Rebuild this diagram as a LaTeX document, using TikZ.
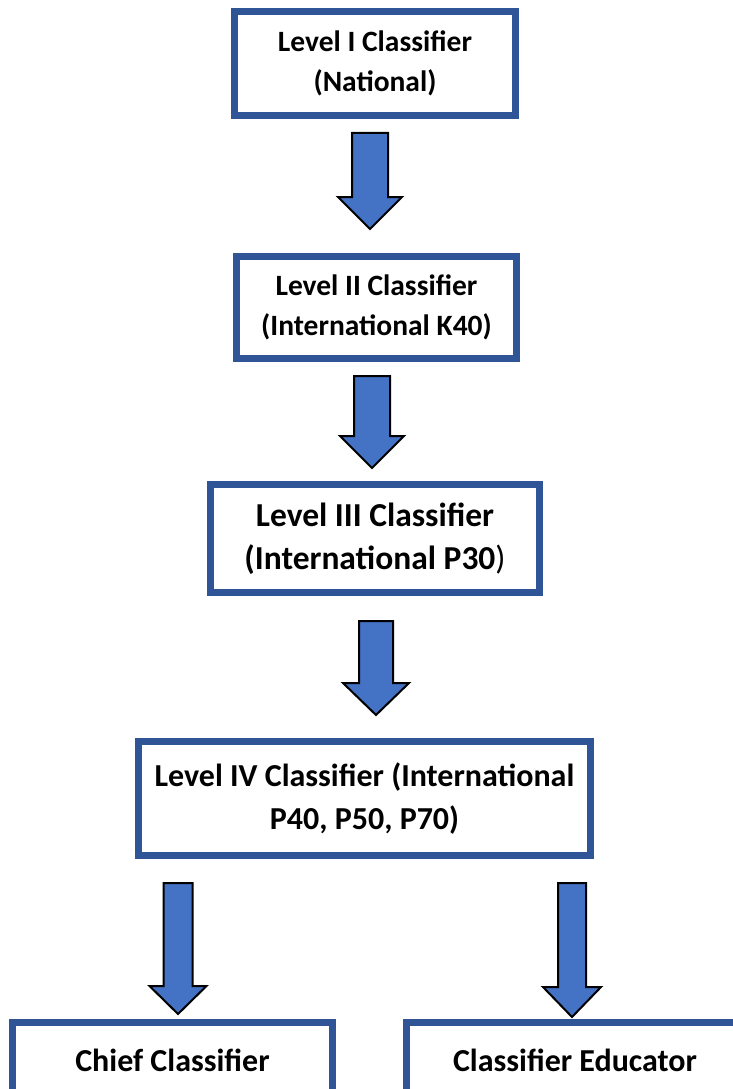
\documentclass[tikz,border=0pt]{standalone}
\usepackage{fontspec}
\setmainfont{Carlito}
\usetikzlibrary{calc}

\definecolor{boxblue}{HTML}{2F5597}
\definecolor{arrowblue}{HTML}{4472C4}

\newcommand{\lvlfont}[2]{\fontsize{#1}{#2}\selectfont\bfseries}

\tikzset{
  levelbox/.style={draw=boxblue, line width=7pt, fill=white, align=center,
    inner sep=0pt, font=\lvlfont{29.5}{40}},
  blockarrow/.style={draw=black, fill=arrowblue, line width=2pt, line join=miter}
}

% block arrow from a start coordinate down to a tip coordinate
\newcommand{\blkarrow}[5]{%
  \draw[blockarrow] let \p1=(#1), \p2=(#2) in
    (\x1-#3,\y1) -- (\x1+#3,\y1) -- (\x1+#3,\y2+#5) -- (\x1+#4,\y2+#5)
    -- (\x1,\y2) -- (\x1-#4,\y2+#5) -- (\x1-#3,\y2+#5) -- cycle;}

\begin{document}
\begin{tikzpicture}[x=1pt, y=1pt]
    \useasboundingbox (0,0) rectangle (733,-1089);
    \clip (0,0) rectangle (733,-1089);

    % Levels
    \node[levelbox, minimum width=281, minimum height=104] (lone) at (375,-63.5)
        {Level I Classifier\\(National)};
    \node[levelbox, minimum width=280, minimum height=102] (ltwo) at (376.5,-307.5)
        {Level II Classifier\\(International K40)};
    \node[levelbox, minimum width=329, minimum height=108, font=\lvlfont{33.5}{43}]
        (lthree) at (375,-538.5) {Level III Classifier\\(International P30\mdseries)};
    \node[levelbox, minimum width=452, minimum height=114, font=\lvlfont{32}{43}]
        (lfour) at (364.5,-798.5) {Level IV Classifier (International\\P40, P50, P70)};

    % Roles
    \node[levelbox, minimum width=320, minimum height=75, font=\lvlfont{32}{43}]
        (chief) at (172.5,-1060) {Chief Classifier};
    \node[levelbox, minimum width=337, minimum height=75, font=\lvlfont{32}{43}]
        (educ) at (575,-1060) {Classifier Educator};

    % Arrow ends
    \coordinate (aone) at (370,-133);   \coordinate (aonetip) at (370,-229);
    \coordinate (atwo) at (372,-376);   \coordinate (atwotip) at (372,-468);
    \coordinate (athree) at (376,-621); \coordinate (athreetip) at (376,-715);
    \coordinate (achief) at (178,-883); \coordinate (achieftip) at (178,-1014);
    \coordinate (aeduc) at (572,-883);  \coordinate (aeductip) at (572,-1017);

    % Arrows
    \blkarrow{aone}{aonetip}{18pt}{32pt}{32pt}
    \blkarrow{atwo}{atwotip}{18pt}{32pt}{32pt}
    \blkarrow{athree}{athreetip}{17pt}{33pt}{32pt}
    \blkarrow{achief}{achieftip}{14.5pt}{28.5pt}{28pt}
    \blkarrow{aeduc}{aeductip}{14pt}{29pt}{30pt}
\end{tikzpicture}
\end{document}
